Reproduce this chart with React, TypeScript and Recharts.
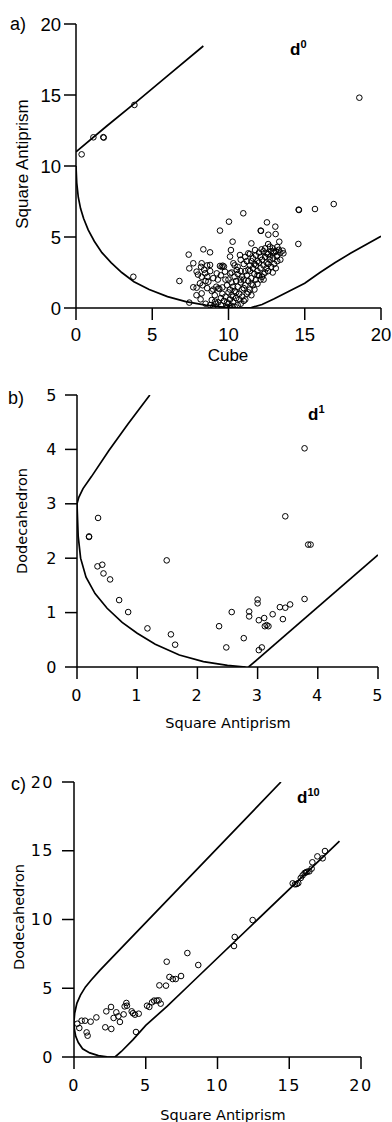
import React from 'react';
import { ScatterChart, Scatter, XAxis, YAxis } from 'recharts';

// ---------- Panel a (d0): Cube vs Square Antiprism ----------
const ticksA = [0, 5, 10, 15, 20];
const pathA_upper: [number, number][] = [[0, 11], [2, 12.8], [4, 14.55], [6, 16.35], [8.35, 18.45]];
const pathA_lower: [number, number][] = [
  [0, 10], [0.05, 8.8], [0.15, 7.8], [0.3, 7.0], [0.5, 6.3], [0.8, 5.5], [1.2, 4.7], [1.7, 3.9],
  [2.3, 3.2], [3, 2.5], [3.8, 1.85], [4.8, 1.3], [6, 0.8], [7.2, 0.45], [8.5, 0.2], [9.8, 0.05],
  [10.8, 0], [11.5, 0.03], [12.2, 0.25], [13, 0.65], [14, 1.2], [15, 1.75], [16, 2.5], [17, 3.2],
  [18, 3.85], [19, 4.45], [20, 5.05],
];
const pointsA: [number, number][] = [
  [0.37, 10.82], [1.14, 12.02], [1.79, 12.03], [1.82, 12.0], [3.83, 14.3], [3.76, 2.2], [18.58, 14.81],
  [14.62, 6.9], [14.6, 6.93], [15.67, 6.97], [16.9, 7.32], [14.58, 4.51], [10.97, 6.67], [10.03, 6.08],
  [9.44, 5.45], [12.52, 6.03], [13.07, 5.73], [12.11, 5.45], [12.13, 5.43], [12.61, 5.16], [13.09, 5.21],
  [13.33, 4.67], [13.55, 4.04], [10.27, 4.67], [11.5, 4.55], [8.35, 4.13], [8.79, 3.92], [7.39, 3.76],
  [10.16, 4.08], [10.75, 3.73], [11.3, 3.85], [11.74, 4.08], [12.17, 4.13], [12.72, 4.32], [12.5, 3.85],
  [12.94, 3.97], [13.16, 3.62], [13.6, 3.85], [13.4, 3.9], [7.69, 3.15], [8.24, 3.15], [8.79, 3.03],
  [8.6, 3.0], [7.43, 2.79], [7.91, 2.56], [8.46, 2.44], [9.44, 2.96], [9.62, 2.98], [9.55, 2.9],
  [9.7, 2.92], [10.1, 3.62], [10.32, 3.15], [10.54, 2.68], [10.1, 2.44], [9.77, 2.56], [9.23, 2.44],
  [8.61, 2.2], [8.24, 2.2], [6.78, 1.9], [7.69, 1.46], [7.91, 1.43], [8.13, 1.74], [8.68, 1.85],
  [9.33, 1.38], [8.9, 1.2], [8.24, 1.03], [8.17, 0.61], [7.43, 0.38], [8.9, 0.56], [9.12, 0.45],
  [9.33, 0.4], [9.88, 0.09], [9.9, 0.0], [8.5, 0.3], [7.9, 0.9], [8.4, 2.7], [8.0, 2.35], [8.3, 1.6],
  [8.6, 1.4], [9.0, 1.3], [9.4, 1.35], [9.2, 1.5], [9.6, 1.45], [9.1, 0.9], [9.5, 0.7], [9.3, 2.0],
  [9.0, 2.1], [8.8, 2.6], [9.5, 2.3], [9.8, 2.0], [9.9, 1.6], [8.2, 2.9], [8.5, 1.9],
  [9.7, 0.5], [9.8, 0.8], [10.0, 0.3], [10.1, 0.6], [10.2, 0.9], [10.3, 0.4], [10.0, 1.1], [10.2, 0.15],
  [10.4, 0.1], [10.4, 1.2], [10.5, 0.7], [10.6, 0.2], [10.6, 1.5], [10.7, 1.0], [10.8, 0.3], [10.8, 1.8],
  [10.9, 1.3], [11.0, 0.5], [11.0, 2.0], [11.1, 1.6], [11.2, 1.0], [11.2, 2.3], [11.3, 1.9], [11.4, 1.3],
  [11.4, 2.6], [11.5, 2.1], [11.6, 1.6], [11.6, 2.8], [11.7, 2.4], [11.8, 2.0], [11.8, 3.0], [11.9, 2.6],
  [12.0, 2.3], [12.0, 3.2], [12.1, 2.8], [12.2, 3.4], [12.2, 2.2], [12.3, 3.0], [12.4, 3.6], [12.4, 2.5],
  [12.5, 3.2], [12.6, 3.8], [12.6, 2.6], [12.7, 3.4], [12.8, 4.0], [12.8, 2.9], [12.9, 3.5], [13.0, 3.9],
  [13.0, 3.1], [13.2, 3.7], [13.2, 3.3], [13.3, 4.1], [10.2, 2.5], [10.4, 2.2], [10.6, 2.9], [10.8, 2.6],
  [11.0, 3.1], [11.2, 3.3], [11.4, 3.0], [11.6, 3.5], [11.8, 3.7], [12.0, 3.9], [10.3, 1.5], [10.5, 1.9],
  [10.1, 1.3], [10.9, 0.8], [11.1, 0.6], [10.7, 0.6], [10.3, 0.8], [10.5, 1.1], [10.9, 2.2], [11.3, 2.7],
  [11.5, 3.3], [12.3, 4.0], [12.7, 3.6], [12.9, 4.2], [13.1, 4.0], [12.1, 3.6], [11.9, 3.3], [11.7, 3.1],
  [12.5, 2.8], [11.5, 0.9], [11.7, 1.3], [11.9, 1.7], [12.1, 2.0], [12.3, 2.4], [13.1, 2.8], [13.4, 3.4],
  [12.6, 3.1], [11.0, 1.4], [10.6, 2.4], [10.2, 1.8], [10.0, 2.0], [10.4, 3.0], [10.8, 3.4], [11.1, 3.6],
  [11.4, 3.8], [12.9, 2.5], [13.2, 4.3], [12.6, 4.5], [12.4, 4.2], [12.3, 2.0], [11.9, 2.3], [11.5, 1.7],
  [11.3, 1.1], [11.1, 2.6], [10.8, 2.0], [9.6, 1.0], [9.9, 0.4], [10.1, 0.0], [9.5, 0.2], [9.2, 0.3],
  [9.0, 0.1], [8.8, 0.2],
];

// ---------- Panel b (d1): Square Antiprism vs Dodecahedron ----------
const ticksB = [0, 1, 2, 3, 4, 5];
const pathB_upper: [number, number][] = [[0, 3.0], [0.03, 3.12], [0.1, 3.28], [0.24, 3.5], [0.53, 3.98], [0.85, 4.47], [1.21, 5.0]];
const pathB_lower: [number, number][] = [
  [0, 3.0], [0.005, 2.85], [0.02, 2.4], [0.06, 2.0], [0.15, 1.65], [0.3, 1.35], [0.5, 1.08], [0.75, 0.82],
  [1.0, 0.62], [1.3, 0.42], [1.7, 0.22], [2.1, 0.1], [2.5, 0.03], [2.8, 0],
];
const pathB_right: [number, number][] = [[2.85, 0], [5, 2.06]];
const pointsB: [number, number][] = [
  [0.2, 2.4], [0.2, 2.39], [0.35, 2.74], [0.34, 1.85], [0.42, 1.88], [0.44, 1.72], [0.55, 1.61], [0.7, 1.23],
  [0.85, 1.01], [1.17, 0.71], [1.49, 1.96], [1.56, 0.6], [1.63, 0.41], [2.36, 0.75], [2.48, 0.36], [2.57, 1.01],
  [2.77, 0.53], [2.86, 1.02], [2.86, 0.93], [3.0, 1.24], [3.0, 1.17], [3.02, 0.86], [3.11, 0.9], [3.02, 0.31],
  [3.07, 0.36], [3.12, 0.75], [3.18, 0.75], [3.15, 0.77], [3.25, 0.97], [3.37, 1.1], [3.42, 0.88], [3.46, 1.09],
  [3.54, 1.15], [3.46, 2.77], [3.78, 4.02], [3.78, 1.25], [3.84, 2.25], [3.88, 2.25],
];

// ---------- Panel c (d10): Square Antiprism vs Dodecahedron ----------
const ticksC = [0, 5, 10, 15, 20];
const pathC_upper: [number, number][] = [[0, 2.6], [0.05, 3.2], [0.2, 3.9], [0.45, 4.5], [0.8, 5.1], [1.2, 5.6], [1.8, 6.3], [2.3, 6.85], [14.42, 20]];
const pathC_lower: [number, number][] = [[0, 2.6], [0.03, 2.0], [0.12, 1.5], [0.3, 1.05], [0.6, 0.6], [1.1, 0.3], [1.7, 0.1], [2.3, 0.02], [2.86, 0]];
const pathC_right: [number, number][] = [[2.86, 0], [3.3, 0.4], [4.1, 1.25], [5.0, 2.3], [6.5, 3.7], [8, 5.2], [18.5, 15.7]];
const pointsC: [number, number][] = [
  [0.23, 2.42], [0.37, 2.11], [0.53, 2.64], [0.77, 2.64], [0.88, 1.79], [0.95, 1.55], [1.16, 2.57], [1.56, 2.88],
  [2.18, 2.16], [2.25, 3.32], [2.6, 2.04], [2.58, 3.64], [2.76, 2.84], [2.95, 3.25], [3.09, 2.96], [3.2, 2.55],
  [3.46, 3.1], [3.53, 3.68], [3.65, 3.93], [3.69, 3.73], [4.02, 3.32], [4.11, 3.18], [4.25, 3.08], [4.51, 3.15],
  [4.32, 1.82], [5.09, 3.73], [5.25, 3.64], [5.44, 3.98], [5.58, 4.1], [5.76, 4.1], [5.9, 4.12], [6.04, 3.88],
  [5.95, 5.21], [6.41, 5.19], [6.46, 6.93], [6.65, 5.82], [6.88, 5.67], [7.09, 5.67], [7.46, 5.89], [7.9, 7.56],
  [8.66, 6.69], [11.15, 8.07], [11.2, 8.73], [12.45, 9.96], [15.24, 12.63], [15.4, 12.56], [15.52, 12.58],
  [15.63, 12.65], [15.8, 13.02], [15.93, 13.21], [16.07, 13.38], [16.17, 13.43], [16.26, 13.48], [16.4, 13.5],
  [16.56, 13.7], [16.61, 14.16], [16.96, 14.59], [17.33, 14.45], [17.49, 14.98],
];

const toXY = (arr: [number, number][]) => arr.map(([x, y]) => ({ x, y }));

const OpenCircle = (p: any) => (
  <circle cx={p.cx} cy={p.cy} r={2.8} fill="none" stroke="#000" strokeWidth={1} />
);
const NoShape = () => <g />;

const lineStyle = { stroke: '#000', strokeWidth: 1.7, fill: 'none' };

interface PanelProps {
  top: number;
  height: number;
  marginTop: number;
  yAxisWidth: number;
  marginRight: number;
  xAxisHeight: number;
  domain: [number, number];
  ticks: number[];
  paths: [number, number][][];
  points: [number, number][];
  tickFont: any;
  yTickMargin: number;
  xTickMargin: number;
}

const Panel = (p: PanelProps) => (
  <div style={{ position: 'absolute', left: 0, top: p.top, width: 392, height: p.height }}>
    <ScatterChart
      width={392}
      height={p.height}
      margin={{ top: p.marginTop, right: p.marginRight, bottom: 0, left: 0 }}
    >
      <XAxis
        type="number"
        dataKey="x"
        domain={p.domain}
        ticks={p.ticks}
        allowDataOverflow
        height={p.xAxisHeight}
        tickSize={12}
        tickMargin={p.xTickMargin}
        axisLine={{ stroke: '#000', strokeWidth: 1.5 }}
        tickLine={{ stroke: '#000', strokeWidth: 1.5 }}
        tick={p.tickFont}
      />
      <YAxis
        type="number"
        dataKey="y"
        domain={p.domain}
        ticks={p.ticks}
        allowDataOverflow
        width={p.yAxisWidth}
        tickSize={12}
        tickMargin={p.yTickMargin}
        axisLine={{ stroke: '#000', strokeWidth: 1.5 }}
        tickLine={{ stroke: '#000', strokeWidth: 1.5 }}
        tick={p.tickFont}
      />
      {p.paths.map((path, i) => (
        <Scatter
          key={'path' + i}
          data={toXY(path)}
          line={lineStyle}
          shape={NoShape}
          isAnimationActive={false}
        />
      ))}
      <Scatter data={toXY(p.points)} shape={OpenCircle} isAnimationActive={false} />
    </ScatterChart>
  </div>
);

const arial = { fill: '#000', fontSize: 18.5, fontFamily: '"Liberation Sans", Arial, sans-serif' };
const dejavu = { fill: '#000', fontSize: 16, fontFamily: '"DejaVu Sans", sans-serif', letterSpacing: 1.5 };
const titleFont = { fontFamily: '"Liberation Sans", Arial, sans-serif', fontSize: 17, fill: '#000' };
const labelFont = { fontFamily: '"Liberation Sans", Arial, sans-serif', fontSize: 18, fill: '#000' };
const titleFontB = { fontFamily: '"DejaVu Sans", sans-serif', fontSize: 14.5, fill: '#000' };

export default function App() {
  return (
    <div style={{ position: 'absolute', left: 0, top: 0, width: 392, height: 1122, background: '#fff' }}>
      <Panel
        top={0}
        height={370}
        marginTop={24}
        yAxisWidth={76}
        marginRight={11}
        xAxisHeight={62}
        domain={[0, 20]}
        ticks={ticksA}
        paths={[pathA_upper, pathA_lower]}
        points={pointsA}
        tickFont={arial}
        yTickMargin={3}
        xTickMargin={8}
      />
      <Panel
        top={370}
        height={360}
        marginTop={25}
        yAxisWidth={77}
        marginRight={14}
        xAxisHeight={63}
        domain={[0, 5]}
        ticks={ticksB}
        paths={[pathB_upper, pathB_lower, pathB_right]}
        points={pointsB}
        tickFont={dejavu}
        yTickMargin={7}
        xTickMargin={11}
      />
      <Panel
        top={730}
        height={392}
        marginTop={52}
        yAxisWidth={74}
        marginRight={31}
        xAxisHeight={65}
        domain={[0, 20]}
        ticks={ticksC}
        paths={[pathC_upper, pathC_lower, pathC_right]}
        points={pointsC}
        tickFont={dejavu}
        yTickMargin={8}
        xTickMargin={11}
      />
      <svg
        width={392}
        height={1122}
        style={{ position: 'absolute', left: 0, top: 0, pointerEvents: 'none' }}
      >
        {/* panel a */}
        <text x={10} y={30} {...labelFont}>a)</text>
        <text x={228} y={361} textAnchor="middle" {...titleFont}>Cube</text>
        <text x={22} y={164} textAnchor="middle" dominantBaseline="central" transform="rotate(-90 22 164)" {...titleFont}>Square Antiprism</text>
        <text x={290} y={55} {...titleFont} fontWeight="bold">
          d<tspan dy={-7} fontSize={11}>0</tspan>
        </text>
        {/* panel b */}
        <text x={8} y={404} {...labelFont}>b)</text>
        <text x={228} y={728} textAnchor="middle" {...titleFontB}>Square Antiprism</text>
        <text x={22} y={521} textAnchor="middle" dominantBaseline="central" transform="rotate(-90 22 521)" {...titleFontB}>Dodecahedron</text>
        <text x={308} y={420} {...titleFont} fontWeight="bold">
          d<tspan dy={-7} fontSize={11}>1</tspan>
        </text>
        {/* panel c */}
        <text x={11} y={790} {...labelFont}>c)</text>
        <text x={223} y={1120} textAnchor="middle" {...titleFontB}>Square Antiprism</text>
        <text x={19} y={917} textAnchor="middle" dominantBaseline="central" transform="rotate(-90 19 917)" {...titleFontB}>Dodecahedron</text>
        <text x={297} y={803} {...titleFont} fontWeight="bold">
          d<tspan dy={-7} fontSize={11}>10</tspan>
        </text>
      </svg>
    </div>
  );
}
